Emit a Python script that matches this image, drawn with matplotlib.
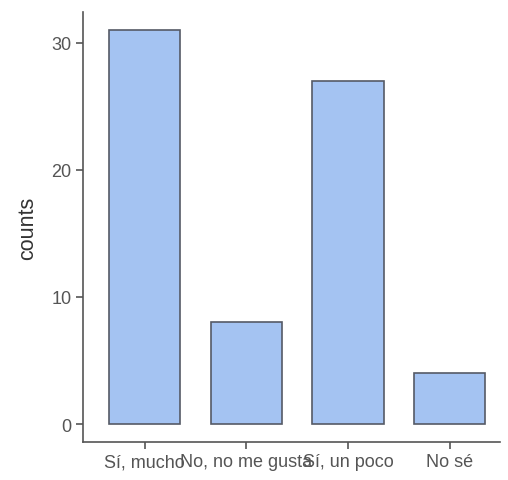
import numpy as np
import matplotlib
matplotlib.use("Agg")
import matplotlib.pyplot as plt

categories = ["Sí, mucho", "No, no me gusta", "Sí, un poco", "No sé"]
counts = [31, 8, 27, 4]
yticks = [0, 10, 20, 30]

plt.rcParams["font.family"] = ["Liberation Sans", "DejaVu Sans"]

fig = plt.figure(figsize=(5.08, 4.81), dpi=100)
ax = fig.add_axes([0.163, 0.079, 0.822, 0.894])

x = np.arange(len(categories))
ax.bar(x, counts, width=0.7, color="#a4c3f2", edgecolor="#555a66", linewidth=1.2)

ax.set_xticks(x)
ax.set_xticklabels(categories)
ax.set_yticks(yticks)
ax.set_xlim(-0.61, 3.5)
ax.set_ylim(-1.4, 32.4)
ax.set_ylabel("counts", fontsize=15.5, color="#333333", labelpad=10)

for side in ["top", "right"]:
    ax.spines[side].set_visible(False)
for side in ["left", "bottom"]:
    ax.spines[side].set_color("#555555")
    ax.spines[side].set_linewidth(1.2)
ax.tick_params(colors="#555555", labelsize=13, length=5, width=1.2, pad=3)
for lbl in ax.get_xticklabels() + ax.get_yticklabels():
    lbl.set_color("#555555")

fig.savefig("out.png", dpi=100)
